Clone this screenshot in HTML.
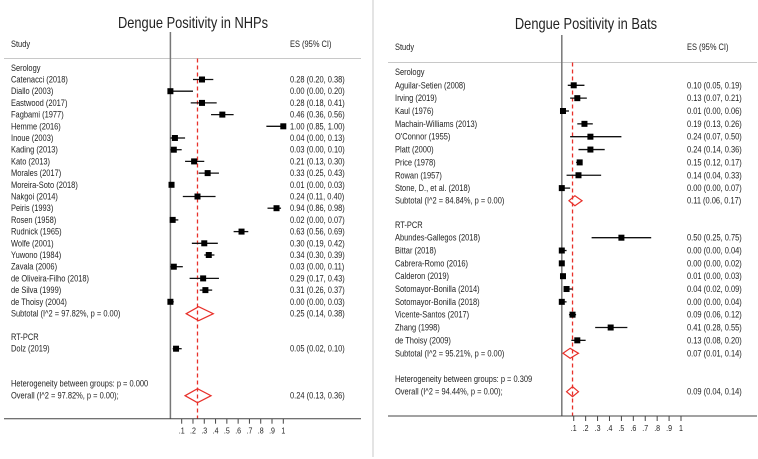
<!DOCTYPE html>
<html><head><meta charset="utf-8">
<style>
body{margin:0;background:#fff;}
svg{display:block;font-family:"Liberation Sans",Arial,sans-serif;}
</style></head>
<body>
<svg id="chart" width="758" height="459">
<line x1="373" y1="0" x2="373" y2="457" stroke="#c8c8c8" stroke-width="1"/>
</svg>
<script>
// NHP panel data
const nhpStudies = ["Catenacci (2018)","Diallo (2003)","Eastwood (2017)","Fagbami (1977)","Hemme (2016)","Inoue (2003)","Kading (2013)","Kato (2013)","Morales (2017)","Moreira-Soto (2018)","Nakgoi (2014)","Peiris (1993)","Rosen (1958)","Rudnick (1965)","Wolfe (2001)","Yuwono (1984)","Zavala (2006)","de Oliveira-Filho (2018)","de Silva (1999)","de Thoisy (2004)"];
const nhpEs = [0.28,0.00,0.28,0.46,1.00,0.04,0.03,0.21,0.33,0.01,0.24,0.94,0.02,0.63,0.30,0.34,0.03,0.29,0.31,0.00];
const nhpLo = [0.20,0.00,0.18,0.36,0.85,0.00,0.00,0.13,0.25,0.00,0.11,0.86,0.00,0.56,0.19,0.30,0.00,0.17,0.26,0.00];
const nhpHi = [0.38,0.20,0.41,0.56,1.00,0.13,0.10,0.30,0.43,0.03,0.40,0.98,0.07,0.69,0.42,0.39,0.11,0.43,0.37,0.03];
const nhpPcr = ["Dolz (2019)"];
const nhpPcrEs = [0.05], nhpPcrLo = [0.02], nhpPcrHi = [0.10];
const nhpSub = [0.25,0.14,0.38];
const nhpOverall = [0.24,0.13,0.36];

// Bat panel data
const batStudies = ["Aguilar-Setien (2008)","Irving (2019)","Kaul (1976)","Machain-Williams (2013)","O'Connor (1955)","Platt (2000)","Price (1978)","Rowan (1957)","Stone, D., et al. (2018)"];
const batEs = [0.10,0.13,0.01,0.19,0.24,0.24,0.15,0.14,0.00];
const batLo = [0.05,0.07,0.00,0.13,0.07,0.14,0.12,0.04,0.00];
const batHi = [0.19,0.21,0.06,0.26,0.50,0.36,0.17,0.33,0.07];
const batPcr = ["Abundes-Gallegos (2018)","Bittar (2018)","Cabrera-Romo (2016)","Calderon (2019)","Sotomayor-Bonilla (2014)","Sotomayor-Bonilla (2018)","Vicente-Santos (2017)","Zhang (1998)","de Thoisy (2009)"];
const batPcrEs = [0.50,0.00,0.00,0.01,0.04,0.00,0.09,0.41,0.13];
const batPcrLo = [0.25,0.00,0.00,0.00,0.02,0.00,0.06,0.28,0.08];
const batPcrHi = [0.75,0.04,0.02,0.03,0.09,0.04,0.12,0.55,0.20];
const batSub1 = [0.11,0.06,0.17];
const batSub2 = [0.07,0.01,0.14];
const batOverall = [0.09,0.04,0.14];
const ticks = [0.1,0.2,0.3,0.4,0.5,0.6,0.7,0.8,0.9,1];
const tickLabels = [".1",".2",".3",".4",".5",".6",".7",".8",".9","1"];

const svg = document.getElementById('chart');
const NS = 'http://www.w3.org/2000/svg';
const SX = 0.83;
function mk(tag, attrs, txt){
  const e = document.createElementNS(NS, tag);
  for (const k in attrs) e.setAttribute(k, attrs[k]);
  if (txt !== undefined) e.textContent = txt;
  svg.appendChild(e);
  return e;
}
function tx(x, y, size, txt, anchor){
  const a = {x:0, y:0, 'font-size':size, fill:'#222', transform:'translate('+x+','+y+') scale('+SX+',1)'};
  if (anchor) a['text-anchor'] = anchor;
  return mk('text', a, txt);
}
const f = v => v.toFixed(2);
function ci(e,l,h){ return f(e)+" ("+f(l)+", "+f(h)+")"; }

function panel(p){
  const X = v => p.x0 + v * p.unit;
  let t = tx(p.titleX, p.titleY, 15.5, p.title, 'middle');
  
  
  t = tx(p.tx, p.headY, 9, 'Study');
  
  
  t = tx(p.esx, p.headY, 9, 'ES (95% CI)');
  
  
  let l = mk('line',{x1:p.lx1,x2:p.lx2,y1:p.sepY,y2:p.sepY,stroke:'#c8c8c8','stroke-width':1});
  
  
  l = mk('line',{x1:X(0),x2:X(0),y1:p.nullTop,y2:p.axisY,stroke:'#777','stroke-width':1.5});
  
  
  l = mk('line',{x1:X(p.overall[0]),x2:X(p.overall[0]),y1:p.sepY,y2:p.axisY,stroke:'#e8302a','stroke-width':1.3,'stroke-dasharray':'4,3'});
  
  
  l = mk('line',{x1:p.lx1,x2:p.lx2,y1:p.axisY,y2:p.axisY,stroke:'#444','stroke-width':1});
  
  
  ticks.forEach((v,i)=>{
    let tk = mk('line',{x1:X(v),x2:X(v),y1:p.axisY,y2:p.axisY+5,stroke:'#444','stroke-width':1});
    
    
    let tl = tx(X(v), p.axisY+15, 8.5, tickLabels[i], 'middle');
    
    
  });
  p.rows.forEach(r=>{
    if (r.type==='label'){
      let e = tx(p.tx, r.y+3, 9, r.text);
      
      
    } else if (r.type==='study'){
      let e = tx(p.tx, r.y+3, 9, r.text);
      
      
      e = mk('line',{x1:X(r.lo),x2:X(r.hi),y1:r.y,y2:r.y,stroke:'#111','stroke-width':1.3});
      
      
      e = mk('rect',{x:X(r.es)-3,y:r.y-3,width:6,height:6,fill:'#000'});
      
      
      e = tx(p.esx, r.y+3, 9, ci(r.es,r.lo,r.hi));
      
      
    } else if (r.type==='diamond'){
      let e = tx(p.tx, r.y+3, 9, r.text);
      
      
      const h = p.dh;
      e = mk('polygon',{points:[X(r.lo)+','+r.y,X(r.es)+','+(r.y-h),X(r.hi)+','+r.y,X(r.es)+','+(r.y+h)].join(' '),fill:'none',stroke:'#e8302a','stroke-width':1.2});
      
      
      e = tx(p.esx, r.y+3, 9, ci(r.es,r.lo,r.hi));
      
      
    }
  });
}

// NHP rows
const nhpRows = [{type:'label',y:68,text:'Serology'}];
nhpStudies.forEach((s,i)=>nhpRows.push({type:'study',y:79.5+i*11.7,text:s,es:nhpEs[i],lo:nhpLo[i],hi:nhpHi[i]}));
nhpRows.push({type:'diamond',y:313.7,text:'Subtotal  (I^2 = 97.82%, p = 0.00)',es:nhpSub[0],lo:nhpSub[1],hi:nhpSub[2]});
nhpRows.push({type:'label',y:337,text:'RT-PCR'});
nhpPcr.forEach((s,i)=>nhpRows.push({type:'study',y:348.7,text:s,es:nhpPcrEs[i],lo:nhpPcrLo[i],hi:nhpPcrHi[i]}));
nhpRows.push({type:'label',y:383.7,text:'Heterogeneity between groups: p = 0.000'});
nhpRows.push({type:'diamond',y:395.7,text:'Overall  (I^2 = 97.82%, p = 0.00);',es:nhpOverall[0],lo:nhpOverall[1],hi:nhpOverall[2]});
panel({key:'nhp',title:'Dengue Positivity in NHPs',titleX:193,titleY:28,x0:170.4,unit:112.9,tx:11,esx:290,headY:47,sepY:58.5,lx1:4,lx2:361,nullTop:32,axisY:418.7,dh:7,rows:nhpRows,overall:nhpOverall});

// Bat rows
const batRows = [{type:'label',y:72,text:'Serology'}];
batStudies.forEach((s,i)=>batRows.push({type:'study',y:85.3+i*12.85,text:s,es:batEs[i],lo:batLo[i],hi:batHi[i]}));
batRows.push({type:'diamond',y:200.7,text:'Subtotal  (I^2 = 84.84%, p = 0.00)',es:batSub1[0],lo:batSub1[1],hi:batSub1[2]});
batRows.push({type:'label',y:225,text:'RT-PCR'});
batPcr.forEach((s,i)=>batRows.push({type:'study',y:237.7+i*12.83,text:s,es:batPcrEs[i],lo:batPcrLo[i],hi:batPcrHi[i]}));
batRows.push({type:'diamond',y:353.3,text:'Subtotal  (I^2 = 95.21%, p = 0.00)',es:batSub2[0],lo:batSub2[1],hi:batSub2[2]});
batRows.push({type:'label',y:379,text:'Heterogeneity between groups: p = 0.309'});
batRows.push({type:'diamond',y:391.7,text:'Overall  (I^2 = 94.44%, p = 0.00);',es:batOverall[0],lo:batOverall[1],hi:batOverall[2]});
panel({key:'bat',title:'Dengue Positivity in Bats',titleX:586,titleY:29,x0:561.8,unit:119.2,tx:395,esx:687,headY:50,sepY:62.5,lx1:388,lx2:757,nullTop:35,axisY:416,dh:5,rows:batRows,overall:batOverall});
</script>
</body></html>
